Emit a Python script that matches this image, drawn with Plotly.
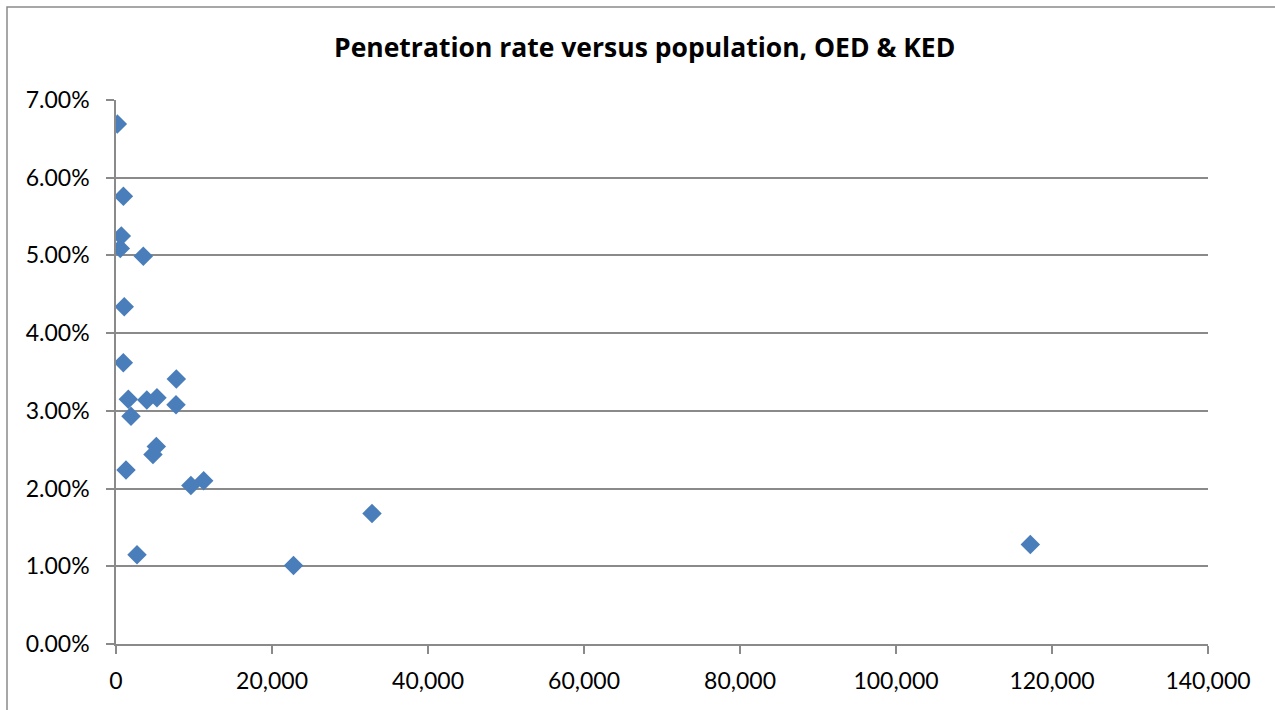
import plotly.graph_objects as go

# Population of each district and its penetration rate (fraction)
population = [170, 950, 680, 550, 3500, 1060, 940, 7730, 1580, 3950, 5250,
              7690, 1920, 5170, 4740, 1280, 9600, 11240, 2690, 22760, 32820, 117220]
penetration = [0.0669, 0.0576, 0.0525, 0.0509, 0.0499, 0.0434, 0.0362, 0.0341,
               0.0315, 0.0314, 0.0317, 0.0308, 0.0293, 0.0254, 0.0244, 0.0224,
               0.0204, 0.0210, 0.0115, 0.0101, 0.0168, 0.0128]

x_ticks = [0, 20000, 40000, 60000, 80000, 100000, 120000, 140000]
y_ticks = [0, 0.01, 0.02, 0.03, 0.04, 0.05, 0.06, 0.07]

W, H = 1275, 710
L, R, T, B = 116, 67, 100, 66
pw, ph = W - L - R, H - T - B

FONT = "Lato"
TITLE_FONT = "Open Sans"
GRID = "#8a8a8a"

fig = go.Figure()
fig.add_trace(go.Scatter(
    x=population, y=penetration, mode="markers",
    marker=dict(symbol="diamond", size=15, color="#4a7ebb", line=dict(width=0)),
    showlegend=False,
))

fig.update_layout(
    width=W, height=H,
    margin=dict(l=L, r=R, t=T, b=B, pad=0),
    paper_bgcolor="white", plot_bgcolor="white",
    font=dict(family=FONT, size=23, color="#000000"),
    xaxis=dict(
        range=[0, 140000], tickvals=x_ticks, tickformat=",d",
        showgrid=False, zeroline=False,
        showline=True, linecolor=GRID, linewidth=1.5,
        ticks="outside", ticklen=8, tickcolor=GRID, tickwidth=1.5,
        ticklabelstandoff=8,
    ),
    yaxis=dict(
        range=[0, 0.07], tickvals=y_ticks, tickformat=".2%",
        showgrid=True, gridcolor=GRID, gridwidth=1.5,
        zeroline=False,
        showline=True, linecolor=GRID, linewidth=1.5,
        ticks="outside", ticklen=8, tickcolor=GRID, tickwidth=1.5,
        ticklabelstandoff=12,
    ),
    shapes=[dict(
        type="rect", xref="paper", yref="paper",
        x0=(7 - L) / pw, x1=(W + 20 - L) / pw,
        y0=-(B + 20) / ph, y1=(H - B - 7) / ph,
        line=dict(color=GRID, width=1.5), fillcolor="rgba(0,0,0,0)", layer="below",
    )],
    annotations=[dict(
        text="<b>Penetration rate versus population, OED &amp; KED</b>",
        xref="paper", yref="paper",
        x=(644 - L) / pw, y=(H - B - 47) / ph,
        xanchor="center", yanchor="middle", showarrow=False,
        font=dict(family=TITLE_FONT, size=26.5, color="#000000"),
    )],
)

fig.write_html("out.html")
